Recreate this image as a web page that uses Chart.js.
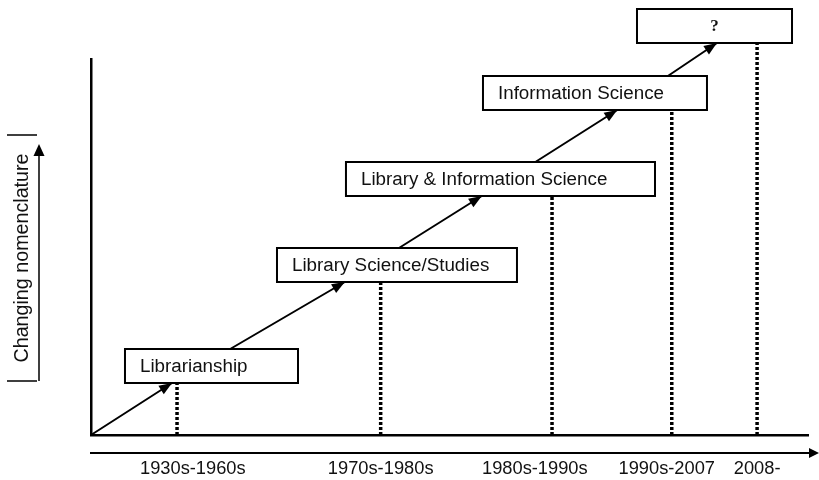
<!DOCTYPE html>
<html>
<head>
<meta charset="utf-8">
<script src="https://cdn.jsdelivr.net/npm/chart.js@4/dist/chart.umd.min.js"></script>
<style>
html,body{margin:0;padding:0;background:#fff;}
#wrap{width:819px;height:480px;}
</style>
</head>
<body>
<div id="wrap"><canvas id="mycanvas"></canvas></div>
<script>
// eras on the time axis
var eras = ['1930s-1960s', '1970s-1980s', '1980s-1990s', '1990s-2007', '2008-'];
var eraX = [12.0, 40.4, 64.3, 81.0, 92.9];        // dotted marker positions
var eraLabelX = [14.2, 40.4, 61.9, 80.3, 92.9];   // tick label positions
// names of the discipline, one per era
var stages = ['Librarianship', 'Library Science/Studies', 'Library & Information Science', 'Information Science', '?'];
var stageLevel = [13, 38.25, 59.75, 81.25, 98];
var arrowX = [11.3, 35.4, 54.5, 73.4, 87.3];
var yTitle = 'Changing nomenclature';

// box layout (axis units)
var boxLeft = [4.74, 25.94, 35.56, 54.67, 76.15];
var boxRight = [28.87, 59.41, 78.66, 85.91, 97.77];
var boxHeight = 8.5;

var FONT = '"Liberation Sans", Arial, sans-serif';

var datasets = [];
var path = [{x: 0, y: 0}];
for (var i in arrowX) {
	path.push({x: arrowX[i], y: stageLevel[i]});
}
datasets.push({
	data: path,
	borderColor: '#000',
	borderWidth: 2,
	pointRadius: 0,
	clip: false
});
for (var j in eraX) {
	datasets.push({
		data: [{x: eraX[j], y: 0}, {x: eraX[j], y: stageLevel[j]}],
		borderColor: '#000',
		borderWidth: 3.5,
		borderDash: [3, 2],
		pointRadius: 0,
		clip: false
	});
}

function tri(ctx, tx, ty, ang, len, half) {
	var c = Math.cos(ang), s = Math.sin(ang);
	var bx = tx - len * c, by = ty - len * s;
	ctx.beginPath();
	ctx.moveTo(tx, ty);
	ctx.lineTo(bx - half * s, by + half * c);
	ctx.lineTo(bx + half * s, by - half * c);
	ctx.closePath();
	ctx.fill();
}

var decor = {
	id: 'decor',
	afterDatasetsDraw: function(chart) {
		var ctx = chart.ctx;
		var xs = chart.scales.x, ys = chart.scales.y;
		var area = chart.chartArea;
		ctx.save();
		ctx.fillStyle = '#000';
		ctx.strokeStyle = '#000';

		// arrow heads on the path
		var pts = chart.getDatasetMeta(0).data;
		for (var k = 1; k < pts.length; k++) {
			var a = Math.atan2(pts[k].y - pts[k - 1].y, pts[k].x - pts[k - 1].x);
			tri(ctx, pts[k].x, pts[k].y, a, 13, 5);
		}

		// name boxes
		for (var i = 0; i < stages.length; i++) {
			var l = xs.getPixelForValue(boxLeft[i]);
			var r = xs.getPixelForValue(boxRight[i]);
			var b = ys.getPixelForValue(stageLevel[i]);
			var t = ys.getPixelForValue(stageLevel[i] + boxHeight);
			ctx.fillStyle = '#fff';
			ctx.fillRect(l, t, r - l, b - t);
			ctx.lineWidth = 2;
			ctx.strokeStyle = '#000';
			ctx.strokeRect(l, t, r - l, b - t);
			ctx.fillStyle = '#111';
			ctx.textBaseline = 'middle';
			if (stages[i] === '?') {
				ctx.font = 'bold 17px "Liberation Serif", "Times New Roman", serif';
				ctx.textAlign = 'center';
				ctx.fillText(stages[i], (l + r) / 2, (t + b) / 2 + 1);
			} else {
				ctx.font = '18.8px ' + FONT;
				ctx.textAlign = 'left';
				ctx.fillText(stages[i], l + 15, (t + b) / 2 + 1);
			}
		}

		// time arrow under the axis
		ctx.fillStyle = '#000';
		ctx.lineWidth = 2;
		var ay = area.bottom + 18;
		ctx.beginPath();
		ctx.moveTo(area.left - 1, ay);
		ctx.lineTo(chart.width - 8, ay);
		ctx.stroke();
		tri(ctx, chart.width, ay, 0, 10, 5);

		// y title with its arrow and brackets
		var yTop = ys.getPixelForValue(75);
		var yBot = ys.getPixelForValue(13.5);
		ctx.lineWidth = 1.5;
		ctx.beginPath();
		ctx.moveTo(7, yTop); ctx.lineTo(37, yTop);
		ctx.moveTo(7, yBot); ctx.lineTo(37, yBot);
		ctx.moveTo(39, yBot); ctx.lineTo(39, yTop + 16);
		ctx.stroke();
		tri(ctx, 39, yTop + 9, -Math.PI / 2, 12, 5.5);

		ctx.translate(23, (yTop + yBot) / 2);
		ctx.rotate(-Math.PI / 2);
		ctx.fillStyle = '#111';
		ctx.font = '19.7px ' + FONT;
		ctx.textAlign = 'center';
		ctx.textBaseline = 'middle';
		ctx.fillText(yTitle, 0, 0);
		ctx.restore();
	}
};

var ctx = document.getElementById('mycanvas');
var chart = new Chart(ctx, {
	type: 'line',
	data: {datasets: datasets},
	options: {
		responsive: true,
		maintainAspectRatio: false,
		animation: false,
		layout: {padding: {top: 59, right: 11, left: 0, bottom: 0}},
		plugins: {legend: {display: false}, tooltip: {enabled: false}},
		scales: {
			x: {
				type: 'linear',
				min: 0,
				max: 100,
				grid: {display: false, drawTicks: false},
				border: {display: true, color: '#000', width: 2.5},
				afterBuildTicks: function(scale) {
					scale.ticks = eraLabelX.map(function(v) { return {value: v}; });
				},
				afterFit: function(scale) { scale.height = 45; },
				ticks: {
					autoSkip: false,
					maxRotation: 0,
					padding: 23,
					color: '#111',
					font: {family: FONT, size: 18.3},
					callback: function(value, index) { return eras[index]; }
				}
			},
			y: {
				type: 'linear',
				min: 0,
				max: 94,
				grid: {display: false, drawTicks: false},
				border: {display: true, color: '#000', width: 2.5},
				ticks: {display: false},
				afterFit: function(scale) { scale.width = 91; }
			}
		}
	},
	plugins: [decor]
});
</script>
</body>
</html>
